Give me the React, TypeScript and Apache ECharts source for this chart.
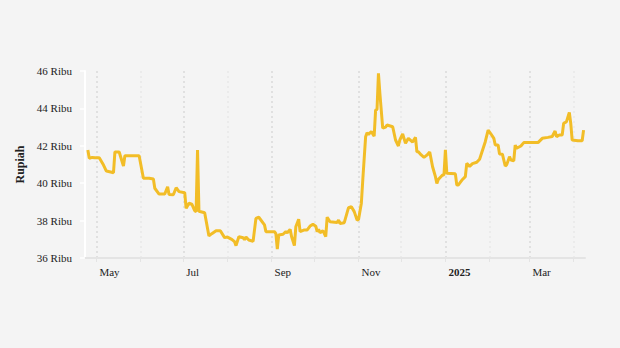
import React, { useEffect, useRef } from "react";
import * as echarts from "echarts";

const dates = [
  "2024-04-25", "2024-04-26", "2024-04-28", "2024-04-30", "2024-05-03", "2024-05-06", "2024-05-08", "2024-05-11",
  "2024-05-13", "2024-05-14", "2024-05-17", "2024-05-20", "2024-05-21", "2024-05-26", "2024-05-31", "2024-06-03",
  "2024-06-07", "2024-06-10", "2024-06-11", "2024-06-14", "2024-06-18", "2024-06-20", "2024-06-21", "2024-06-24",
  "2024-06-26", "2024-06-28", "2024-07-02", "2024-07-03", "2024-07-05", "2024-07-07", "2024-07-09", "2024-07-10",
  "2024-07-11", "2024-07-12", "2024-07-16", "2024-07-19", "2024-07-21", "2024-07-24", "2024-07-27", "2024-07-30",
  "2024-08-01", "2024-08-04", "2024-08-06", "2024-08-07", "2024-08-09", "2024-08-12", "2024-08-13", "2024-08-14",
  "2024-08-16", "2024-08-19", "2024-08-21", "2024-08-23", "2024-08-27", "2024-08-28", "2024-09-03", "2024-09-04",
  "2024-09-05", "2024-09-06", "2024-09-09", "2024-09-11", "2024-09-12", "2024-09-14", "2024-09-15", "2024-09-17",
  "2024-09-18", "2024-09-20", "2024-09-21", "2024-09-24", "2024-09-26", "2024-09-28", "2024-09-30", "2024-10-02",
  "2024-10-03", "2024-10-04", "2024-10-05", "2024-10-07", "2024-10-09", "2024-10-10", "2024-10-12", "2024-10-17",
  "2024-10-18", "2024-10-19", "2024-10-22", "2024-10-25", "2024-10-27", "2024-10-29", "2024-10-31", "2024-11-01",
  "2024-11-03", "2024-11-04", "2024-11-06", "2024-11-07", "2024-11-08", "2024-11-10", "2024-11-12", "2024-11-13",
  "2024-11-14", "2024-11-15", "2024-11-16", "2024-11-18", "2024-11-20", "2024-11-21", "2024-11-25", "2024-11-27",
  "2024-11-29", "2024-11-30", "2024-12-02", "2024-12-04", "2024-12-06", "2024-12-09", "2024-12-11", "2024-12-12",
  "2024-12-13", "2024-12-15", "2024-12-17", "2024-12-19", "2024-12-21", "2024-12-23", "2024-12-25", "2024-12-26",
  "2024-12-27", "2024-12-30", "2024-12-31", "2025-01-01", "2025-01-02", "2025-01-08", "2025-01-09", "2025-01-10",
  "2025-01-13", "2025-01-15", "2025-01-16", "2025-01-18", "2025-01-20", "2025-01-23", "2025-01-25", "2025-01-29",
  "2025-01-31", "2025-02-02", "2025-02-04", "2025-02-05", "2025-02-07", "2025-02-08", "2025-02-10", "2025-02-12",
  "2025-02-13", "2025-02-15", "2025-02-16", "2025-02-18", "2025-02-19", "2025-02-20", "2025-02-23", "2025-02-25",
  "2025-03-07", "2025-03-10", "2025-03-14", "2025-03-17", "2025-03-19", "2025-03-20", "2025-03-22", "2025-03-24",
  "2025-03-25", "2025-03-27", "2025-03-29", "2025-03-30", "2025-03-31", "2025-04-04", "2025-04-07", "2025-04-08",
];

const prices = [
  41.78, 41.33, 41.38, 41.36, 41.36, 40.97, 40.65, 40.6,
  40.56, 41.67, 41.67, 40.92, 41.47, 41.47, 41.47, 40.26,
  40.26, 40.22, 39.73, 39.42, 39.42, 39.81, 39.39, 39.38,
  39.76, 39.55, 39.49, 38.66, 38.93, 38.88, 38.53, 38.47,
  41.78, 38.5, 38.42, 37.18, 37.3, 37.46, 37.46, 37.09,
  37.12, 37.0, 36.87, 36.66, 37.14, 37.08, 36.98, 37.12,
  36.96, 36.89, 38.12, 38.18, 37.77, 37.41, 37.41, 37.3,
  36.48, 37.23, 37.27, 37.41, 37.35, 37.53, 37.15, 36.66,
  37.67, 38.07, 37.41, 37.5, 37.5, 37.71, 37.8, 37.7,
  37.41, 37.53, 37.35, 37.46, 37.14, 38.18, 37.94, 37.9,
  38.03, 37.85, 37.89, 38.69, 38.74, 38.48, 38.03, 38.05,
  38.93, 40.17, 42.49, 42.7, 42.6, 42.76, 42.52, 43.91,
  43.95, 45.88, 44.81, 42.94, 43.0, 43.11, 43.02, 42.31,
  41.99, 42.31, 42.63, 42.13, 42.4, 42.2, 42.45, 41.68,
  41.68, 41.51, 41.38, 41.5, 41.67, 40.88, 40.35, 39.99,
  40.2, 40.44, 40.44, 41.78, 40.53, 40.5, 39.9, 39.9,
  40.2, 40.35, 41.06, 40.9, 41.05, 41.12, 41.28, 42.22,
  42.84, 42.63, 42.4, 42.04, 42.04, 41.56, 41.55, 40.92,
  40.98, 41.42, 41.24, 41.2, 42.04, 41.87, 41.99, 42.17,
  42.17, 42.4, 42.45, 42.5, 42.79, 42.49, 42.58, 42.58,
  43.2, 43.29, 43.79, 43.2, 42.31, 42.27, 42.27, 42.84,
];

// month index (0-based) -> label shown on the x axis; other months unlabeled
const labelMonths = [4, 6, 8, 10, 0, 2];
const labelTexts = ["May", "Jul", "Sep", "Nov", "2025", "Mar"];
const yTicks = [36, 38, 40, 42, 44, 46];

const axisMin = "2024-04-23";
const axisMax = "2025-04-09";

function ts(s: string): number {
  const [y, m, d] = s.split("-").map(Number);
  return new Date(y, m - 1, d).getTime();
}

const DAY = 24 * 3600 * 1000;

export default function App() {
  const ref = useRef<HTMLDivElement>(null);
  useEffect(() => {
    if (!ref.current) return;
    const chart = echarts.init(ref.current, null, { renderer: "svg" });
    const font = "'Liberation Serif', 'Times New Roman', serif";
    chart.setOption({
      animation: false,
      backgroundColor: "#f4f4f4",
      textStyle: { fontFamily: font },
      grid: { left: 85, right: 35, top: 71, bottom: 90, containLabel: false, outerBoundsMode: "none" },
      xAxis: {
        type: "time",
        min: ts(axisMin),
        max: ts(axisMax),
        minInterval: 28 * DAY,
        maxInterval: 31 * DAY,
        splitNumber: 12,
        axisLine: { show: true, lineStyle: { color: "#e4e4e4", width: 2 } },
        axisTick: { show: true, length: 4, lineStyle: { color: "#e4e4e4", width: 1 } },
        splitLine: {
          show: true,
          showMinLine: false,
          showMaxLine: false,
          lineStyle: { color: ["#d9d9d9", "#e8e8e8"], width: 1.5, type: [2, 3] },
        },
        axisLabel: {
          hideOverlap: false,
          showMinLabel: false,
          showMaxLabel: false,
          align: "left",
          margin: 8,
          padding: [0, 0, 0, 3],
          color: "#222",
          fontSize: 11,
          fontFamily: font,
          formatter: (v: number) => {
            const d = new Date(v);
            if (d.getDate() !== 1) return "";
            const i = labelMonths.indexOf(d.getMonth());
            const t = i >= 0 ? labelTexts[i] : "";
            return t === "2025" ? "{b|" + t + "}" : t;
          },
          rich: { b: { fontWeight: "bold", fontSize: 11, fontFamily: font, color: "#222" } },
        },
      },
      yAxis: {
        type: "value",
        min: yTicks[0],
        max: yTicks[yTicks.length - 1],
        interval: 2,
        name: "Rupiah",
        nameLocation: "middle",
        nameGap: 56,
        nameTextStyle: { fontFamily: font, fontWeight: "bold", fontSize: 12, color: "#222" },
        axisLine: { show: true, lineStyle: { color: "#ffffff", width: 2 } },
        axisTick: { show: true, length: 5, lineStyle: { color: "#ffffff", width: 1.5 } },
        splitLine: { show: false },
        axisLabel: { margin: 13, color: "#222", fontSize: 11, fontFamily: font, formatter: "{value} Ribu" },
      },
      series: [
        {
          type: "line",
          data: dates.map((d, i) => [ts(d), prices[i]]),
          showSymbol: false,
          lineStyle: { color: "#F2BD27", width: 3 },
          itemStyle: { color: "#F2BD27" },
        },
      ],
    });
    return () => chart.dispose();
  }, []);
  return (
    <div
      ref={ref}
      style={{ position: "fixed", left: 0, top: 0, width: 620, height: 348, background: "#f4f4f4" }}
    />
  );
}
